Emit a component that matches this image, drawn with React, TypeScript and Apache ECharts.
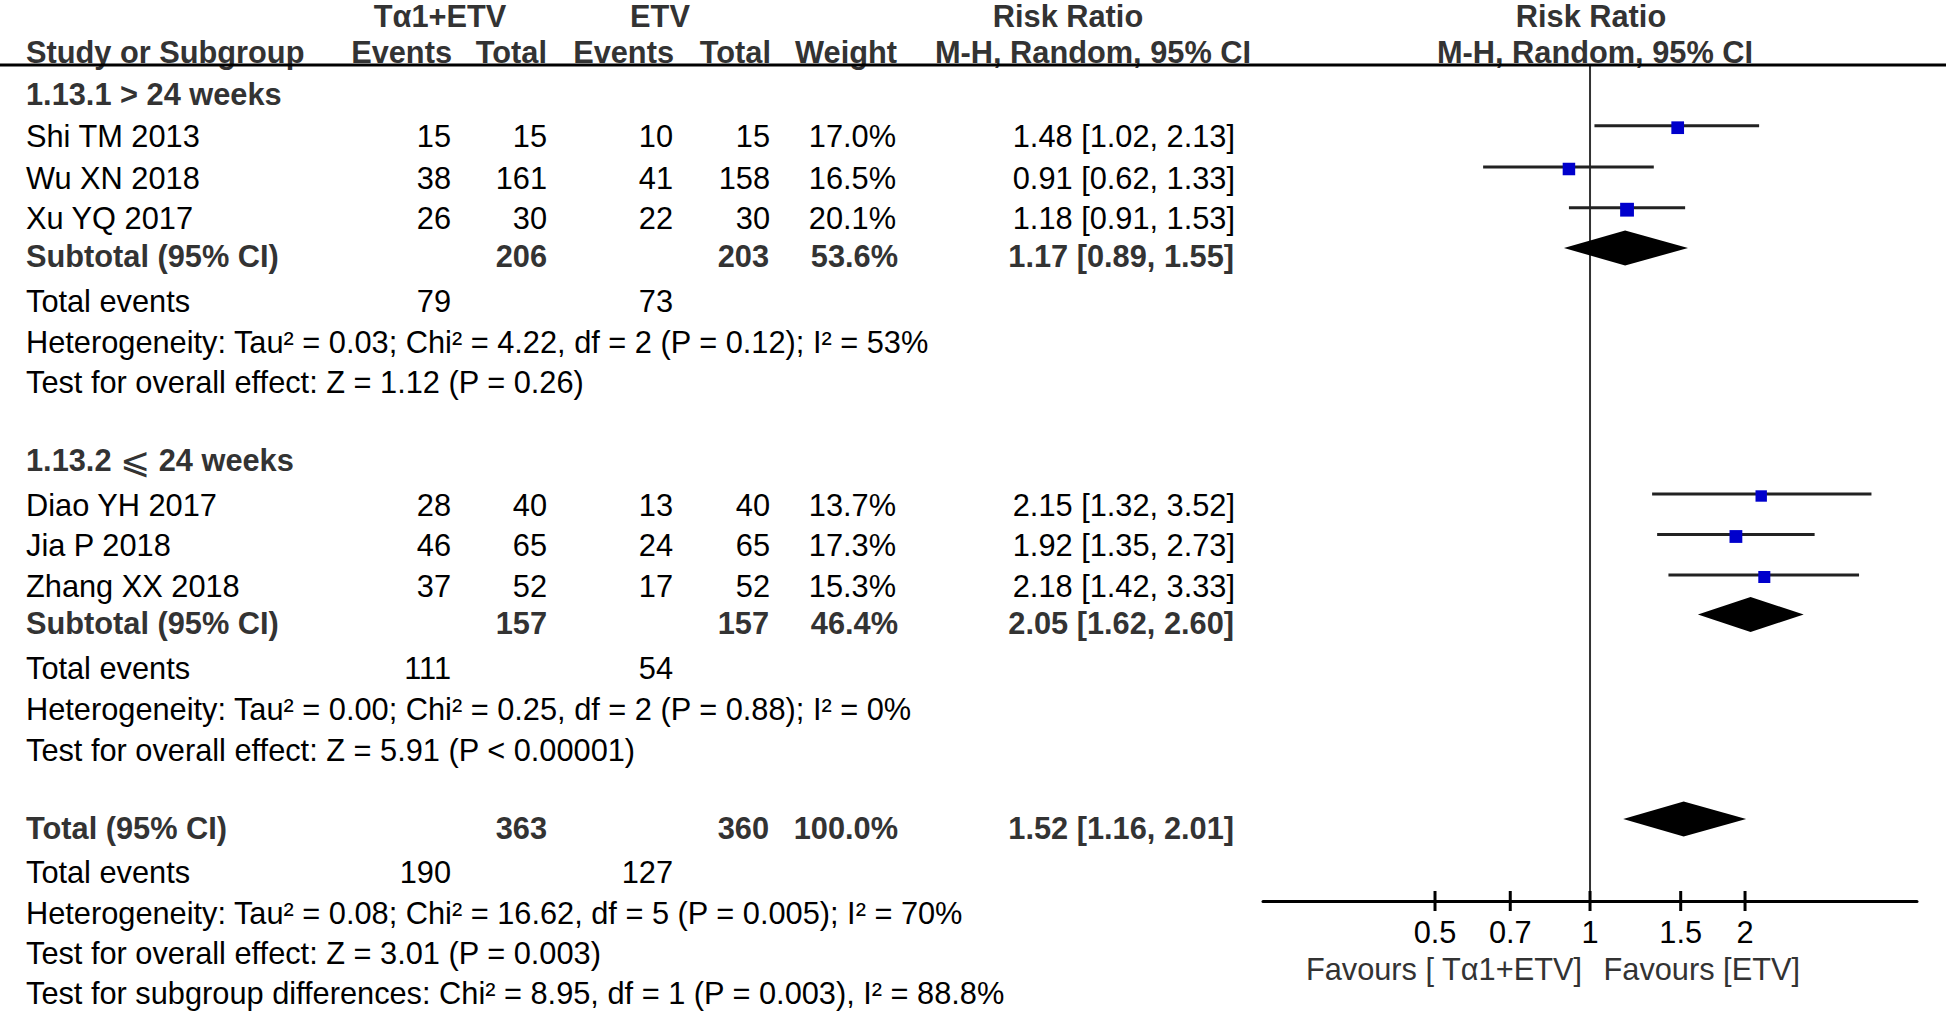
import React, { useEffect, useRef } from "react";
import * as echarts from "echarts";

// ---------------- data ----------------
const STUDY_NAMES = ["Shi TM 2013", "Wu XN 2018", "Xu YQ 2017", "Diao YH 2017", "Jia P 2018", "Zhang XX 2018"];
const EXP_EVENTS = [15, 38, 26, 28, 46, 37];
const EXP_TOTAL = [15, 161, 30, 40, 65, 52];
const CTL_EVENTS = [10, 41, 22, 13, 24, 17];
const CTL_TOTAL = [15, 158, 30, 40, 65, 52];
const WEIGHTS = [17.0, 16.5, 20.1, 13.7, 17.3, 15.3];
const RR = [1.48, 0.91, 1.18, 2.15, 1.92, 2.18];
const RR_LOW = [1.02, 0.62, 0.91, 1.32, 1.35, 1.42];
const RR_HIGH = [2.13, 1.33, 1.53, 3.52, 2.73, 3.33];

const GROUP_TITLES = ["1.13.1 > 24 weeks", "1.13.2 ⩽ 24 weeks"];
const SUB_EXP_TOTAL = [206, 157];
const SUB_CTL_TOTAL = [203, 157];
const SUB_WEIGHT = [53.6, 46.4];
const SUB_RR = [1.17, 2.05];
const SUB_LOW = [0.89, 1.62];
const SUB_HIGH = [1.55, 2.6];
const SUB_EXP_EVENTS = [79, 111];
const SUB_CTL_EVENTS = [73, 54];
const SUB_HETEROGENEITY = [
  "Heterogeneity: Tau² = 0.03; Chi² = 4.22, df = 2 (P = 0.12); I² = 53%",
  "Heterogeneity: Tau² = 0.00; Chi² = 0.25, df = 2 (P = 0.88); I² = 0%",
];
const SUB_OVERALL = [
  "Test for overall effect: Z = 1.12 (P = 0.26)",
  "Test for overall effect: Z = 5.91 (P < 0.00001)",
];

const TOTAL_EXP = 363;
const TOTAL_CTL = 360;
const TOTAL_WEIGHT = 100.0;
const TOTAL_RR = 1.52;
const TOTAL_LOW = 1.16;
const TOTAL_HIGH = 2.01;
const TOTAL_EXP_EVENTS = 190;
const TOTAL_CTL_EVENTS = 127;
const TOTAL_HETEROGENEITY = "Heterogeneity: Tau² = 0.08; Chi² = 16.62, df = 5 (P = 0.005); I² = 70%";
const TOTAL_OVERALL = "Test for overall effect: Z = 3.01 (P = 0.003)";
const SUBGROUP_DIFF = "Test for subgroup differences: Chi² = 8.95, df = 1 (P = 0.003), I² = 88.8%";

const AXIS_TICKS = [0.5, 0.7, 1, 1.5, 2];
const AXIS_MIN = 0.2317;
const AXIS_MAX = 4.315;
const FAVOURS_LEFT = "Favours [ Tα1+ETV]";
const FAVOURS_RIGHT = "Favours [ETV]";

// ---------------- layout ----------------
const W = 1946;
const H = 1011;
const FONT = '"Liberation Sans", Arial, Helvetica, sans-serif';
const FS = 30.75;
const BOLD_COLOR = "#333333";
const TEXT_COLOR = "#000000";
const GRID_TOP = 65;
const GRID_BOTTOM = 901;
const GRID_LEFT = 1263;
const GRID_RIGHT = 1917;

const X_LABEL = 26;
const X_EXP_EVENTS = 451;
const X_EXP_TOTAL = 547;
const X_CTL_EVENTS = 673;
const X_CTL_TOTAL = 770;
const X_WEIGHT = 897;
const X_RR_TEXT = 1235;

const HEADER1_Y = 16;
const HEADER2_Y = 52;
const GROUP_TITLE_Y = [94, 460.5];
const STUDY_Y = [136.7, 178, 218.7, 505, 545.5, 586];
const SUB_Y = [256.5, 623];
const SUB_EVENTS_Y = [301.5, 668.5];
const SUB_HET_Y = [342.5, 709];
const SUB_TEST_Y = [382, 750];
const TOTAL_Y = 828.5;
const TOTAL_EVENTS_Y = 872;
const TOTAL_HET_Y = 913;
const TOTAL_TEST_Y = 953.5;
const SUBDIFF_Y = 993.5;
const STUDY_MARK_SHIFT = 11;
const DIAMOND_SHIFT = 8.5;
const DIAMOND_H = 35;
const TICK_LABEL_DY = 31;
const FAVOURS_Y = 969.5;

function txt(text: string, x: number, y: number, align: string, bold: boolean, color?: string, rich?: any) {
  const style: any = {
    text,
    fill: color || (bold ? BOLD_COLOR : TEXT_COLOR),
    fontFamily: FONT,
    fontSize: FS,
    fontWeight: bold ? "bold" : "normal",
    align,
    verticalAlign: "middle",
    textAlign: align,
    textVerticalAlign: "middle",
  };
  if (rich) style.rich = rich;
  return { type: "text", x, y, silent: true, style };
}

const fmtW = (w: number) => w.toFixed(1) + "%";
const fmtRR = (r: number, l: number, h: number) => `${r.toFixed(2)} [${l.toFixed(2)}, ${h.toFixed(2)}]`;

function buildGraphics() {
  const els: any[] = [];
  // header rule
  els.push({
    type: "line",
    shape: { x1: 0, y1: GRID_TOP, x2: W, y2: GRID_TOP },
    style: { stroke: "#000", lineWidth: 3 },
    silent: true,
    z: 10,
  });
  // headers
  els.push(txt("Tα1+ETV", 440, HEADER1_Y, "center", true));
  els.push(txt("ETV", 660, HEADER1_Y, "center", true));
  els.push(txt("Risk Ratio", 1068, HEADER1_Y, "center", true));
  els.push(txt("Risk Ratio", 1591, HEADER1_Y, "center", true));
  els.push(txt("Study or Subgroup", X_LABEL, HEADER2_Y, "left", true));
  els.push(txt("Events", X_EXP_EVENTS + 1, HEADER2_Y, "right", true));
  els.push(txt("Total", X_EXP_TOTAL, HEADER2_Y, "right", true));
  els.push(txt("Events", X_CTL_EVENTS + 1, HEADER2_Y, "right", true));
  els.push(txt("Total", X_CTL_TOTAL + 1, HEADER2_Y, "right", true));
  els.push(txt("Weight", X_WEIGHT, HEADER2_Y, "right", true));
  els.push(txt("M-H, Random, 95% CI", 1093, HEADER2_Y, "center", true));
  els.push(txt("M-H, Random, 95% CI", 1595, HEADER2_Y, "center", true));

  // groups
  for (let g = 0; g < GROUP_TITLES.length; g++) {
    const title = GROUP_TITLES[g];
    if (title.indexOf("⩽") >= 0) {
      els.push(
        txt(title.replace("⩽", "{sym|⩽}"), X_LABEL, GROUP_TITLE_Y[g], "left", true, undefined, {
          sym: { fontFamily: '"DejaVu Sans", sans-serif', fontWeight: "normal", fontSize: 36, fill: BOLD_COLOR },
        })
      );
    } else {
      els.push(txt(title, X_LABEL, GROUP_TITLE_Y[g], "left", true));
    }
  }
  // studies
  for (let i = 0; i < STUDY_NAMES.length; i++) {
    const y = STUDY_Y[i];
    els.push(txt(STUDY_NAMES[i], X_LABEL, y, "left", false));
    els.push(txt(String(EXP_EVENTS[i]), X_EXP_EVENTS, y, "right", false));
    els.push(txt(String(EXP_TOTAL[i]), X_EXP_TOTAL, y, "right", false));
    els.push(txt(String(CTL_EVENTS[i]), X_CTL_EVENTS, y, "right", false));
    els.push(txt(String(CTL_TOTAL[i]), X_CTL_TOTAL, y, "right", false));
    els.push(txt(fmtW(WEIGHTS[i]), X_WEIGHT - 1, y, "right", false));
    els.push(txt(fmtRR(RR[i], RR_LOW[i], RR_HIGH[i]), X_RR_TEXT, y, "right", false));
  }
  // subtotals
  for (let g = 0; g < SUB_RR.length; g++) {
    const y = SUB_Y[g];
    els.push(txt("Subtotal (95% CI)", X_LABEL, y, "left", true));
    els.push(txt(String(SUB_EXP_TOTAL[g]), X_EXP_TOTAL, y, "right", true));
    els.push(txt(String(SUB_CTL_TOTAL[g]), X_CTL_TOTAL - 1, y, "right", true));
    els.push(txt(fmtW(SUB_WEIGHT[g]), X_WEIGHT + 1, y, "right", true));
    els.push(txt(fmtRR(SUB_RR[g], SUB_LOW[g], SUB_HIGH[g]), X_RR_TEXT - 1, y, "right", true));
    els.push(txt("Total events", X_LABEL, SUB_EVENTS_Y[g], "left", false));
    els.push(txt(String(SUB_EXP_EVENTS[g]), X_EXP_EVENTS, SUB_EVENTS_Y[g], "right", false));
    els.push(txt(String(SUB_CTL_EVENTS[g]), X_CTL_EVENTS, SUB_EVENTS_Y[g], "right", false));
    els.push(txt(SUB_HETEROGENEITY[g], X_LABEL, SUB_HET_Y[g], "left", false));
    els.push(txt(SUB_OVERALL[g], X_LABEL, SUB_TEST_Y[g], "left", false));
  }
  // total
  els.push(txt("Total (95% CI)", X_LABEL, TOTAL_Y, "left", true));
  els.push(txt(String(TOTAL_EXP), X_EXP_TOTAL, TOTAL_Y, "right", true));
  els.push(txt(String(TOTAL_CTL), X_CTL_TOTAL - 1, TOTAL_Y, "right", true));
  els.push(txt(fmtW(TOTAL_WEIGHT), X_WEIGHT + 1, TOTAL_Y, "right", true));
  els.push(txt(fmtRR(TOTAL_RR, TOTAL_LOW, TOTAL_HIGH), X_RR_TEXT - 1, TOTAL_Y, "right", true));
  els.push(txt("Total events", X_LABEL, TOTAL_EVENTS_Y, "left", false));
  els.push(txt(String(TOTAL_EXP_EVENTS), X_EXP_EVENTS, TOTAL_EVENTS_Y, "right", false));
  els.push(txt(String(TOTAL_CTL_EVENTS), X_CTL_EVENTS, TOTAL_EVENTS_Y, "right", false));
  els.push(txt(TOTAL_HETEROGENEITY, X_LABEL, TOTAL_HET_Y, "left", false));
  els.push(txt(TOTAL_OVERALL, X_LABEL, TOTAL_TEST_Y, "left", false));
  els.push(txt(SUBGROUP_DIFF, X_LABEL, SUBDIFF_Y, "left", false));

  // favours labels
  els.push(txt(FAVOURS_LEFT, 1582, FAVOURS_Y, "right", false, "#333333"));
  els.push(txt(FAVOURS_RIGHT, 1603.5, FAVOURS_Y, "left", false, "#333333"));
  return els;
}

export default function App() {
  const ref = useRef<HTMLDivElement>(null);
  useEffect(() => {
    if (!ref.current) return;
    const chart = echarts.init(ref.current, null, { renderer: "svg" });

    const studyData = STUDY_NAMES.map((_, i) => [RR[i], RR_LOW[i], RR_HIGH[i], WEIGHTS[i], STUDY_Y[i] - STUDY_MARK_SHIFT]);
    const diamondData = [
      ...SUB_RR.map((r, g) => [r, SUB_LOW[g], SUB_HIGH[g], SUB_Y[g] - DIAMOND_SHIFT]),
      [TOTAL_RR, TOTAL_LOW, TOTAL_HIGH, TOTAL_Y - DIAMOND_SHIFT - 1],
    ];

    const option: any = {
      animation: false,
      backgroundColor: "#ffffff",
      grid: { left: GRID_LEFT, right: W - GRID_RIGHT, top: GRID_TOP, bottom: H - GRID_BOTTOM, containLabel: false },
      xAxis: {
        type: "log",
        logBase: 10,
        min: AXIS_MIN,
        max: AXIS_MAX,
        axisLine: { show: true, onZero: false, lineStyle: { color: "#000", width: 3 } },
        axisTick: { show: false },
        axisLabel: { show: false },
        splitLine: { show: false },
      },
      yAxis: { type: "value", min: GRID_TOP, max: GRID_BOTTOM, inverse: true, show: false },
      series: [
        {
          type: "custom",
          name: "ref",
          clip: false,
          silent: true,
          encode: { x: 0, y: [1, 2] },
          data: [[1, GRID_TOP, GRID_BOTTOM]],
          renderItem: (params: any, api: any) => {
            const a = api.coord([api.value(0), api.value(1)]);
            const b = api.coord([api.value(0), api.value(2)]);
            return {
              type: "line",
              shape: { x1: a[0], y1: a[1], x2: b[0], y2: b[1] },
              style: { stroke: "#333333", lineWidth: 2 },
            };
          },
        },
        {
          type: "custom",
          name: "studies",
          clip: false,
          silent: true,
          encode: { x: [0, 1, 2], y: 4 },
          data: studyData,
          renderItem: (params: any, api: any) => {
            const y = api.value(4);
            const p = api.coord([api.value(0), y]);
            const l = api.coord([api.value(1), y]);
            const h = api.coord([api.value(2), y]);
            const s = 3.08 * Math.sqrt(api.value(3));
            return {
              type: "group",
              children: [
                {
                  type: "line",
                  shape: { x1: l[0], y1: l[1], x2: h[0], y2: h[1] },
                  style: { stroke: "#222222", lineWidth: 3 },
                },
                {
                  type: "rect",
                  shape: { x: p[0] - s / 2, y: p[1] - s / 2 + 2, width: s, height: s },
                  style: { fill: "#0000CC" },
                },
              ],
            };
          },
        },
        {
          type: "custom",
          name: "diamonds",
          clip: false,
          silent: true,
          encode: { x: [0, 1, 2], y: 3 },
          data: diamondData,
          renderItem: (params: any, api: any) => {
            const y = api.value(3);
            const c = api.coord([api.value(0), y]);
            const l = api.coord([api.value(1), y]);
            const h = api.coord([api.value(2), y]);
            const hh = DIAMOND_H / 2;
            return {
              type: "polygon",
              shape: {
                points: [
                  [l[0], l[1]],
                  [c[0], c[1] - hh],
                  [h[0], h[1]],
                  [c[0], c[1] + hh],
                ],
              },
              style: { fill: "#000000" },
            };
          },
        },
        {
          type: "custom",
          name: "ticks",
          clip: false,
          silent: true,
          encode: { x: 0, y: 1 },
          data: AXIS_TICKS.map((v) => [v, GRID_BOTTOM]),
          renderItem: (params: any, api: any) => {
            const v = api.value(0);
            const p = api.coord([v, api.value(1)]);
            return {
              type: "group",
              children: [
                {
                  type: "line",
                  shape: { x1: p[0], y1: p[1] - 10, x2: p[0], y2: p[1] + 10 },
                  style: { stroke: "#000", lineWidth: 3 },
                },
                {
                  type: "text",
                  x: p[0],
                  y: p[1] + TICK_LABEL_DY,
                  style: {
                    text: String(v),
                    fill: "#000",
                    fontFamily: FONT,
                    fontSize: FS,
                    align: "center",
                    verticalAlign: "middle",
                    textAlign: "center",
                    textVerticalAlign: "middle",
                  },
                },
              ],
            };
          },
        },
      ],
      graphic: { elements: buildGraphics() },
    };
    chart.setOption(option);
    return () => chart.dispose();
  }, []);
  return (
    <div
      ref={ref}
      style={{ position: "fixed", left: 0, top: 0, width: W, height: H, background: "#ffffff" }}
    />
  );
}
